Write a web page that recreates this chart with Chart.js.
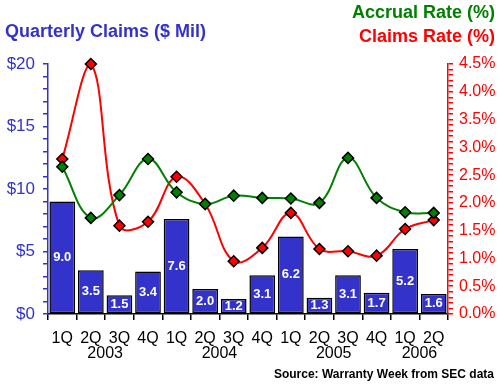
<!DOCTYPE html>
<html>
<head>
<meta charset="utf-8">
<script src="https://cdn.jsdelivr.net/npm/chart.js@4"></script>
<style>
html,body{margin:0;padding:0;background:#fff}
canvas{display:block}
</style>
</head>
<body>
<canvas id="grafica" width="500" height="385"></canvas>
<script>

/* DATOS */

const trimestres=["1Q","2Q","3Q","4Q","1Q","2Q","3Q","4Q","1Q","2Q","3Q","4Q","1Q","2Q"]
const anios=[{t:"2003",pos:1.5},{t:"2004",pos:5.5},{t:"2005",pos:9.5},{t:"2006",pos:12.5}]
const reclamos=[9.0,3.5,1.5,3.4,7.6,2.0,1.2,3.1,6.2,1.3,3.1,1.7,5.2,1.6]
const tasaAcumulada=[2.65,1.73,2.14,2.79,2.19,1.98,2.13,2.09,2.08,2.0,2.81,2.09,1.83,1.82]
const tasaReclamos=[2.79,4.5,1.59,1.66,2.47,1.98,0.95,1.19,1.82,1.17,1.13,1.05,1.53,1.69]

const AZUL="#3333cc"
const VERDE="#008000"
const ROJO="#ff0000"
const FUENTE="'Liberation Sans', Arial, sans-serif"

/* TEXTOS */

const textos={
id:"textos",
afterDraw(chart){
const ctx=chart.ctx
ctx.save()
ctx.textBaseline="middle"
ctx.font="bold 18px "+FUENTE
ctx.fillStyle=AZUL
ctx.textAlign="left"
ctx.fillText("Quarterly Claims ($ Mil)",5,32)
ctx.textAlign="right"
ctx.fillStyle=VERDE
ctx.fillText("Accrual Rate (%)",495,13)
ctx.fillStyle=ROJO
ctx.fillText("Claims Rate (%)",495,37)

const x=chart.scales.x
ctx.fillStyle="#000"
ctx.textAlign="center"
ctx.font="16px "+FUENTE
anios.forEach(a=>{
ctx.fillText(a.t,x.getPixelForValue(a.pos),354)
})

ctx.textAlign="right"
ctx.font="bold 12px "+FUENTE
ctx.fillText("Source: Warranty Week from SEC data",494,375)
ctx.restore()
},
afterDatasetDraw(chart,args){
if(args.index!==2) return
const ctx=chart.ctx
ctx.save()
ctx.fillStyle="#fff"
ctx.font="bold 13px 'Liberation Sans Narrow', "+FUENTE
ctx.textAlign="center"
ctx.textBaseline="middle"
args.meta.data.forEach((b,i)=>{
ctx.fillText(reclamos[i].toFixed(1),b.x,(b.y+b.base)/2)
})
ctx.restore()
}
}

/* GRAFICA */

new Chart(document.getElementById("grafica"),{
data:{
labels:trimestres,
datasets:[
{
type:"line",
label:"Accrual Rate (%)",
data:tasaAcumulada,
yAxisID:"y1",
borderColor:VERDE,
borderWidth:2,
tension:0.4,
clip:false,
pointStyle:"rectRot",
pointRadius:5.5,
pointBackgroundColor:VERDE,
pointBorderColor:"#000",
pointBorderWidth:1.5,
order:0
},
{
type:"line",
label:"Claims Rate (%)",
data:tasaReclamos,
yAxisID:"y1",
borderColor:ROJO,
borderWidth:2,
tension:0.4,
clip:false,
pointStyle:"rectRot",
pointRadius:5.5,
pointBackgroundColor:ROJO,
pointBorderColor:"#000",
pointBorderWidth:1.5,
order:1
},
{
type:"bar",
label:"Quarterly Claims",
data:reclamos,
yAxisID:"y",
backgroundColor:AZUL,
borderColor:"#000",
borderWidth:1.5,
borderSkipped:false,
barPercentage:0.9,
categoryPercentage:1,
order:2
}
]
},
options:{
responsive:false,
animation:false,
events:[],
layout:{padding:{top:64,left:0,right:0,bottom:0}},
plugins:{legend:{display:false},tooltip:{enabled:false}},
scales:{
x:{
offset:true,
afterFit(s){s.height=71},
border:{color:"#000",width:1.5},
grid:{drawOnChartArea:false,offset:true,color:"#000",tickLength:6,lineWidth:1.5},
ticks:{color:"#000",font:{family:FUENTE,size:16},padding:9,maxRotation:0,autoSkip:false}
},
y:{
position:"left",
min:0,max:20,
afterFit(s){s.width=48},
border:{color:AZUL,width:1.5},
grid:{drawOnChartArea:false,color:AZUL,tickLength:5,lineWidth:1.5},
ticks:{
stepSize:1,autoSkip:false,color:AZUL,padding:8,
font:{family:FUENTE,size:17},
callback:v=>v%5===0?"$"+v:""
}
},
y1:{
position:"right",
min:0,max:4.5,
afterFit(s){s.width=52},
border:{color:ROJO,width:1.5},
grid:{drawOnChartArea:false,color:ROJO,tickLength:5,lineWidth:1.5},
ticks:{
stepSize:0.1,autoSkip:false,color:ROJO,padding:6,
font:{family:FUENTE,size:16},
callback:v=>Math.round(v*10)%5===0?v.toFixed(1)+"%":""
}
}
}
},
plugins:[textos]
})
</script>
</body>
</html>
